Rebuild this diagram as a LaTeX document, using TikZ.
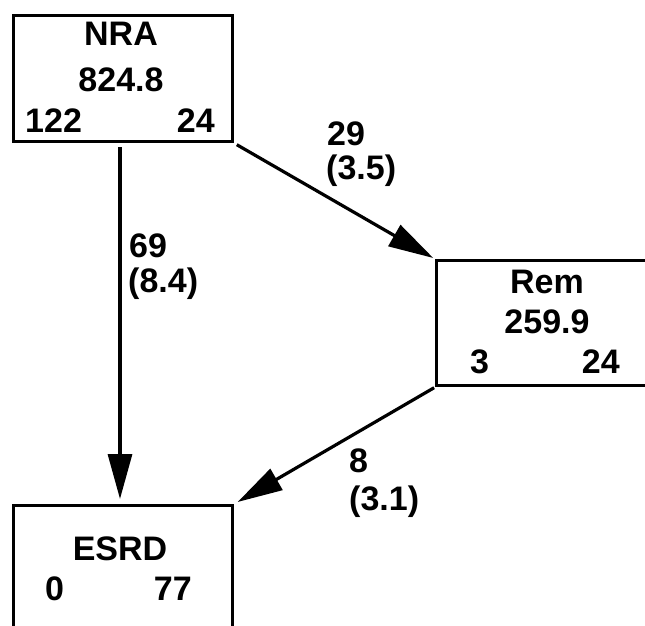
\documentclass[tikz,border=0pt]{standalone}
\usepackage{fontspec}
\setmainfont{Liberation Sans}
\newfontfamily\labfont{Liberation Sans}[UprightFont=* Bold]
\usetikzlibrary{arrows.meta}
\begin{document}
\begin{tikzpicture}[x=1pt,y=-1pt,
  statebox/.style={draw,line width=3.2pt,rectangle,anchor=north west,inner sep=0pt},
  txt/.style={font={\fontsize{34}{34}\labfont},inner sep=0pt},
  flow/.style={line width=3.2pt,-{Triangle[length=45pt,width=24pt]}}]
\useasboundingbox (0,0) rectangle (645,626);
\clip (0,0) rectangle (645,626);
\fill[white] (0,0) rectangle (645,626);
% boxes
\node[statebox,minimum width=219pt,minimum height=126pt] (nra) at (12,14) {};
\node[statebox,minimum width=230pt,minimum height=125pt] (rem) at (435,259) {};
\node[statebox,minimum width=219pt,minimum height=140pt] (esrd) at (12,504) {};
% texts
\node[txt,anchor=base] (nraT) at (121,46) {NRA};
\node[txt,anchor=base] (nraV) at (121,92) {824.8};
\node[txt,anchor=base west] (nraL) at (25,132) {122};
\node[txt,anchor=base east] (nraR) at (215,132) {24};
\node[txt,anchor=base] (remT) at (547,293) {Rem};
\node[txt,anchor=base] (remV) at (547,333) {259.9};
\node[txt,anchor=base west] (remL) at (470,373) {3};
\node[txt,anchor=base east] (remR) at (620,373) {24};
\node[txt,anchor=base] (esrdT) at (120,560) {ESRD};
\node[txt,anchor=base west] (esrdL) at (45,600) {0};
\node[txt,anchor=base east] (esrdR) at (192,600) {77};
% connectors
\coordinate (a1) at (120,147);
\coordinate (a2) at (120,499);
\draw[flow] (a1) -- (a2);
\draw[flow,shorten <=3pt,shorten >=2pt] (nra.south east) -- (rem.north west);
\draw[flow,shorten <=1pt,shorten >=4pt] (rem.south west) -- (esrd.north east);
% labels
\node[txt,anchor=base west] (l1a) at (327,145) {29};
\node[txt,anchor=base west] (l1b) at (326,179) {(3.5)};
\node[txt,anchor=base west] (l2a) at (129,257) {69};
\node[txt,anchor=base west] (l2b) at (128,292) {(8.4)};
\node[txt,anchor=base west] (l3a) at (349,472) {8};
\node[txt,anchor=base west] (l3b) at (349,510) {(3.1)};
\end{tikzpicture}
\end{document}
